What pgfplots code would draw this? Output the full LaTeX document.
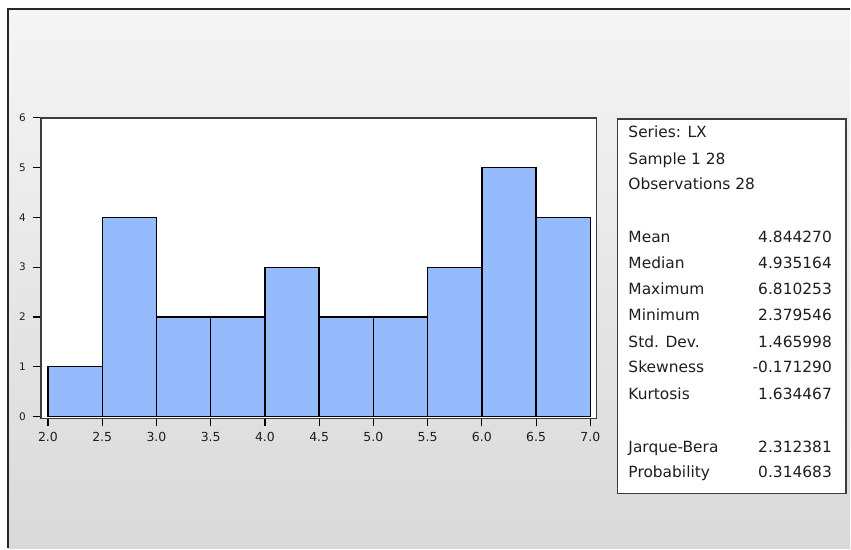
\documentclass[border=0pt]{standalone}
\usepackage{pgfplots}
\pgfplotsset{compat=1.18}
\usepackage{fontspec}
\setmainfont{DejaVu Sans}
\definecolor{barblue}{RGB}{150,187,252}
\definecolor{frameg}{RGB}{60,60,60}
\definecolor{txt}{RGB}{30,30,30}
\begin{document}
\begin{tikzpicture}[x=1bp,y=1bp]
% canvas
\fill[white] (0,0) rectangle (851,549);
\shade[top color={rgb,255:red,245;green,245;blue,245}, bottom color={rgb,255:red,217;green,217;blue,217}] (8,0) rectangle (851,540);
\draw[line width=2bp, black!85] (8,0) -- (8,540) -- (851,540);
% histogram
\begin{axis}[
  at={(41bp,130bp)}, anchor=south west,
  scale only axis, width=556bp, height=301bp,
  xmin=1.9355, xmax=7.055, ymin=-0.04, ymax=6,
  axis background/.style={fill=white},
  axis line style={frameg, line width=1.5bp},
  tick pos=left, tick align=outside,
  major tick length=8bp,
  tick style={black, line width=1.2bp},
  xtick={2,2.5,...,7}, ytick={0,1,...,6},
  /pgf/number format/assume math mode=true,
  xticklabel={\pgfmathprintnumber[fixed,fixed zerofill,precision=1]{\tick}},
  xticklabel style={font=\fontsize{12.5}{14}\selectfont, text=txt, inner sep=0pt, yshift=-6bp},
  yticklabel style={font=\fontsize{10.5}{12}\selectfont, text=txt, inner sep=0pt, xshift=-7bp},
]
\addplot[ybar interval, fill=barblue, draw=black, line width=1.3bp] coordinates {
  (2.0,1) (2.5,4) (3.0,2) (3.5,2) (4.0,3) (4.5,2) (5.0,2) (5.5,3) (6.0,5) (6.5,4) (7.0,4)
};
\end{axis}
% stats box
\draw[fill=white, draw=frameg, line width=1.5bp] (618,55) rectangle (847,430);
\begin{scope}[every node/.style={inner sep=0pt, text=txt, font=\fontsize{15.5}{18}\selectfont}]
\node[anchor=mid west] at (629,{549-135}) {Series: LX};
\node[anchor=mid west] at (629,{549-162}) {Sample 1 28};
\node[anchor=mid west] at (629,{549-187}) {Observations 28};
\node[anchor=mid west] at (629,{549-240}) {Mean};
\node[anchor=mid east] at (833,{549-240}) {4.844270};
\node[anchor=mid west] at (629,{549-266}) {Median};
\node[anchor=mid east] at (833,{549-266}) {4.935164};
\node[anchor=mid west] at (629,{549-292}) {Maximum};
\node[anchor=mid east] at (833,{549-292}) {6.810253};
\node[anchor=mid west] at (629,{549-318}) {Minimum};
\node[anchor=mid east] at (833,{549-318}) {2.379546};
\node[anchor=mid west] at (629,{549-345}) {Std. Dev.};
\node[anchor=mid east] at (833,{549-345}) {1.465998};
\node[anchor=mid west] at (629,{549-370}) {Skewness};
\node[anchor=mid east] at (833,{549-370}) {-0.171290};
\node[anchor=mid west] at (629,{549-397}) {Kurtosis};
\node[anchor=mid east] at (833,{549-397}) {1.634467};
\node[anchor=mid west] at (629,{549-450}) {Jarque-Bera};
\node[anchor=mid east] at (833,{549-450}) {2.312381};
\node[anchor=mid west] at (629,{549-475}) {Probability};
\node[anchor=mid east] at (833,{549-475}) {0.314683};
\end{scope}
\end{tikzpicture}
\end{document}
